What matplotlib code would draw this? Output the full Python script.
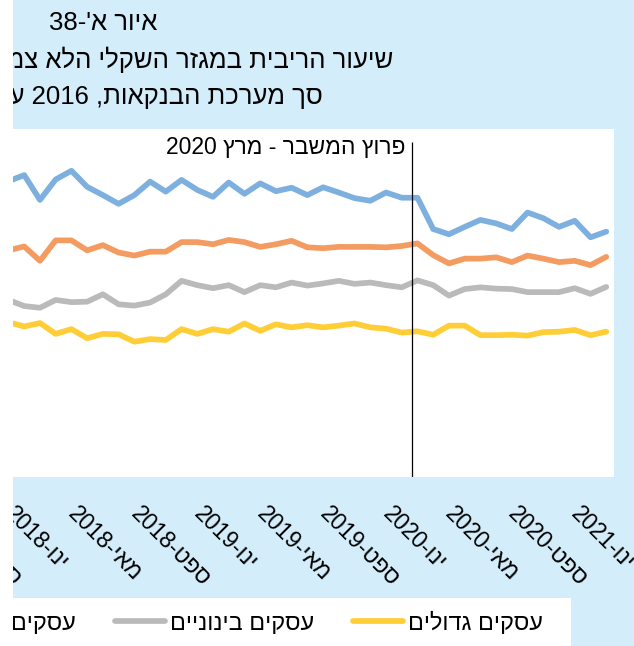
import matplotlib
matplotlib.use("Agg")
import matplotlib.pyplot as plt
from matplotlib.lines import Line2D
from matplotlib.patches import Rectangle
from matplotlib.transforms import offset_copy

plt.rcParams["font.family"] = ["Liberation Sans", "DejaVu Sans"]

W, H = 634, 646

# monthly, Jan 2018 .. Mar 2021
month_names = ["ינו", "פבר", "מרץ", "אפר", "מאי", "יונ",
               "יול", "אוג", "ספט", "אוק", "נוב", "דצמ"]
first_year = 2018
micro = [6.80, 6.94, 6.37, 6.84, 7.04, 6.67, 6.48, 6.28, 6.48, 6.79,
         6.56, 6.83, 6.60, 6.44, 6.77, 6.51, 6.75, 6.57, 6.65, 6.48,
         6.66, 6.54, 6.41, 6.35, 6.54, 6.42, 6.42, 5.70, 5.58, 5.75,
         5.91, 5.83, 5.70, 6.08, 5.95, 5.75, 5.89, 5.51, 5.64]
small = [5.21, 5.30, 4.97, 5.44, 5.44, 5.21, 5.33, 5.16, 5.09, 5.18,
         5.18, 5.40, 5.40, 5.35, 5.45, 5.40, 5.29, 5.35, 5.43, 5.28,
         5.26, 5.29, 5.29, 5.29, 5.28, 5.31, 5.37, 5.10, 4.91, 5.02,
         5.02, 5.05, 4.94, 5.09, 5.02, 4.94, 4.97, 4.87, 5.06]
medium = [4.07, 3.93, 3.89, 4.07, 4.02, 4.03, 4.20, 3.97, 3.94, 4.01,
          4.20, 4.51, 4.41, 4.34, 4.41, 4.25, 4.41, 4.36, 4.47, 4.40,
          4.45, 4.51, 4.44, 4.47, 4.41, 4.36, 4.52, 4.41, 4.17, 4.32,
          4.36, 4.33, 4.32, 4.25, 4.25, 4.25, 4.34, 4.21, 4.37]
large = [3.56, 3.46, 3.54, 3.29, 3.40, 3.19, 3.29, 3.28, 3.11, 3.17,
         3.15, 3.40, 3.29, 3.40, 3.34, 3.53, 3.36, 3.51, 3.44, 3.49,
         3.44, 3.48, 3.53, 3.44, 3.41, 3.32, 3.35, 3.27, 3.48, 3.48,
         3.26, 3.26, 3.27, 3.25, 3.33, 3.34, 3.38, 3.26, 3.34]
series_names = ["עסקים זעירים", "עסקים קטנים", "עסקים בינוניים", "עסקים גדולים"]
colors = ["#7DB0DF", "#F39B60", "#BABABA", "#FFCD36"]

title_1 = ("איור א", "38")
title_2 = "שיעור הריבית במגזר השקלי הלא צמוד לפי גודל העסק"
title_3 = ("סך מערכת הבנקאות", "2016", "עד", "2021")
crisis_label = ("פרוץ המשבר - מרץ", "2020")


def heb(s):
    # no bidi in matplotlib, so hebrew runs are written in visual order
    return s[::-1]


def fx(px):
    return px / W


def fy(py):
    return 1 - py / H


bg = "#D4EDFA"
fig = plt.figure(figsize=(W / 100, H / 100), dpi=100, facecolor=bg)

# x: month index, pixel = 8.5 + 15.73 * i ; axes run past the cropped left edge
x0, dx = 8.5, 15.73
ax_left, ax_right, ax_top, ax_bottom = -60, 614, 129, 477
ax = fig.add_axes([fx(ax_left), fy(ax_bottom),
                   (ax_right - ax_left) / W, (ax_bottom - ax_top) / H])
ax.set_facecolor("white")
ax.set_xlim((ax_left - x0) / dx, (ax_right - x0) / dx)
ax.set_ylim(0, 8)

x = list(range(len(micro)))
for vals, c in zip([micro, small, medium, large], colors):
    ax.plot(x, vals, color=c, lw=4.1, solid_capstyle="round",
            solid_joinstyle="round", zorder=2)

crisis_x = 25.67
ax.vlines(crisis_x, 0, 7.70, color="black", lw=0.9, zorder=3)
ax.text(crisis_x, 7.58, crisis_label[1] + " " + heb(crisis_label[0]),
        ha="right", va="center", fontsize=16.5,
        transform=offset_copy(ax.transData, fig, x=-7, y=0, units="dots"))

ticks = list(range(-4, len(micro), 4))
tick_labels = []
for i in ticks:
    tick_labels.append(f"{first_year + i // 12}-{heb(month_names[i % 12])}")
ax.set_xticks(ticks)
ax.set_xticklabels(tick_labels, rotation=-45, ha="left", va="center",
                   rotation_mode="anchor", fontsize=16.5)
ax.tick_params(axis="x", length=0, pad=24)
ax.set_yticks([])
for s in ax.spines.values():
    s.set_visible(False)

title_size = 18.5
fig.text(fx(157), fy(30), title_1[1] + "-'" + heb(title_1[0]),
         ha="right", va="baseline", fontsize=title_size)
fig.text(fx(393), fy(68), heb(title_2), ha="right", va="baseline",
         fontsize=title_size)
fig.text(fx(323), fy(104),
         f"{title_3[3]} {heb(title_3[2])} {title_3[1]} ,{heb(title_3[0])}",
         ha="right", va="baseline", fontsize=title_size)

# legend panel
fig.patches.append(Rectangle((fx(13), 0), fx(571) - fx(13), fy(598),
                             transform=fig.transFigure, facecolor="white",
                             edgecolor="none", zorder=2))
handles = [Line2D([], [], color=c, lw=4.1, solid_capstyle="round") for c in colors]
fig.legend(handles, [heb(n) for n in series_names], ncols=4, loc="center right",
           bbox_to_anchor=(fx(543), fy(623)), frameon=False, fontsize=16.9,
           handlelength=2.15, handletextpad=0.2, columnspacing=1.65,
           borderpad=0, borderaxespad=0)

# the source picture is cropped on the left
fig.patches.append(Rectangle((0, 0), fx(13), 1, transform=fig.transFigure,
                             facecolor="white", edgecolor="none", zorder=10))

fig.savefig("out.png", dpi=100, facecolor=bg)
